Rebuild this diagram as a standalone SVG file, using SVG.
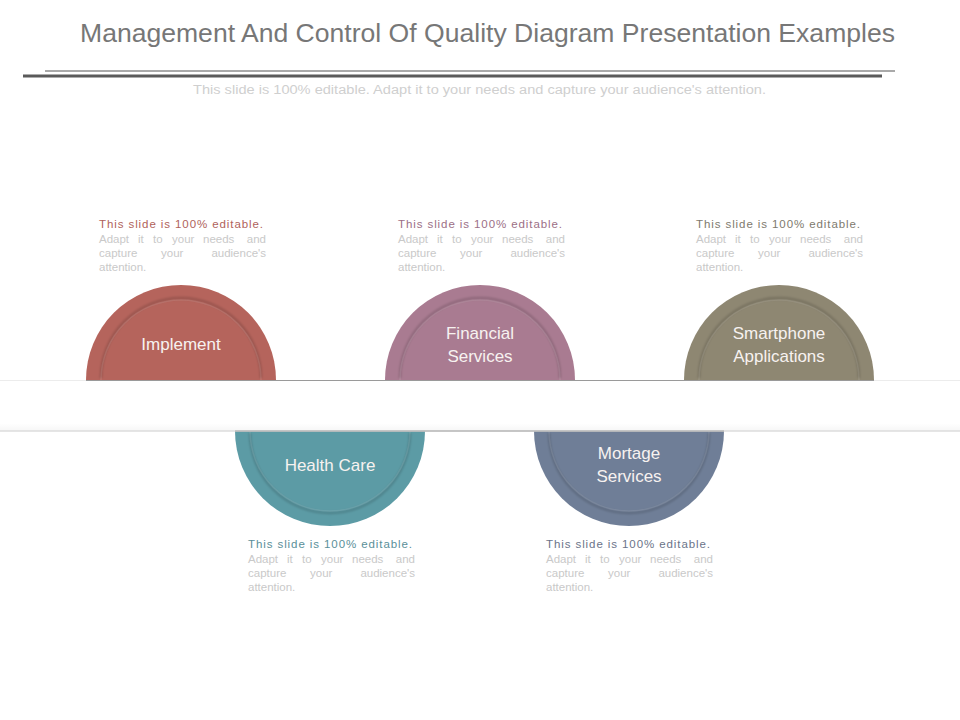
<svg xmlns="http://www.w3.org/2000/svg" width="960" height="720" viewBox="0 0 960 720">
<defs>
<style>
.title{font-family:"Liberation Sans",Arial,sans-serif;font-size:26px;fill:#777;}
.sub{font-family:"Liberation Sans",Arial,sans-serif;font-size:12px;fill:#cfcfcf;}
.lbl{font-family:"Liberation Sans",Arial,sans-serif;font-size:17px;fill:#f7f2f0;text-anchor:middle;}
.d1{font-family:"Liberation Sans",Arial,sans-serif;font-size:11.5px;}
.d2{font-family:"Liberation Sans",Arial,sans-serif;font-size:11.5px;fill:#c9c9c9;}
.ring{fill:none;stroke:#000;stroke-opacity:0.16;stroke-width:2.5;filter:url(#bl);}
.hi{fill:none;stroke:#fff;stroke-opacity:0.1;stroke-width:1.5;}
</style>
<filter id="bl" x="-10%" y="-10%" width="120%" height="120%"><feGaussianBlur stdDeviation="0.8"/></filter>
<linearGradient id="band" x1="0" y1="0" x2="0" y2="1">
<stop offset="0" stop-color="#ffffff"/>
<stop offset="0.85" stop-color="#ffffff"/>
<stop offset="1" stop-color="#f6f6f6"/>
</linearGradient>
</defs>
<rect width="960" height="720" fill="#fff"/>
<g id="header">
<text class="title" x="80" y="42" textLength="815" lengthAdjust="spacingAndGlyphs">Management And Control Of Quality Diagram Presentation Examples</text>
<line x1="45" y1="71" x2="895" y2="71" stroke="#555" stroke-width="1.2"/>
<line x1="23" y1="76" x2="882" y2="76" stroke="#5a5a5a" stroke-width="3"/>
<text class="sub" x="193" y="94" textLength="573" lengthAdjust="spacingAndGlyphs">This slide is 100% editable. Adapt it to your needs and capture your audience's attention.</text>
</g>
<g id="node-implement">
<path d="M86,380 A95,95 0 0 1 276,380 Z" fill="#b5645c"/>
<path d="M101,378 A80,80 0 0 1 261,378" class="ring"/>
<path d="M101,380 A80,80 0 0 1 261,380" class="hi"/>
<text class="lbl" x="181" y="350">Implement</text>
<text class="d1" x="99" y="228" fill="#b0625b" textLength="164">This slide is 100% editable.</text>
<text class="d2" y="243"><tspan x="99">Adapt</tspan><tspan x="138">it</tspan><tspan x="153">to</tspan><tspan x="172">your</tspan><tspan x="203">needs</tspan><tspan x="266" text-anchor="end">and</tspan></text>
<text class="d2" y="257"><tspan x="99">capture</tspan><tspan x="161">your</tspan><tspan x="266" text-anchor="end">audience's</tspan></text>
<text class="d2" x="99" y="271">attention.</text>
</g>
<g id="node-financial">
<path d="M385,380 A95,95 0 0 1 575,380 Z" fill="#a97b91"/>
<path d="M400,378 A80,80 0 0 1 560,378" class="ring"/>
<path d="M400,380 A80,80 0 0 1 560,380" class="hi"/>
<text class="lbl" x="480" y="339">Financial</text>
<text class="lbl" x="480" y="362">Services</text>
<text class="d1" x="398" y="228" fill="#9c6f86" textLength="164">This slide is 100% editable.</text>
<text class="d2" y="243"><tspan x="398">Adapt</tspan><tspan x="437">it</tspan><tspan x="452">to</tspan><tspan x="471">your</tspan><tspan x="502">needs</tspan><tspan x="565" text-anchor="end">and</tspan></text>
<text class="d2" y="257"><tspan x="398">capture</tspan><tspan x="460">your</tspan><tspan x="565" text-anchor="end">audience's</tspan></text>
<text class="d2" x="398" y="271">attention.</text>
</g>
<g id="node-smartphone">
<path d="M684,380 A95,95 0 0 1 874,380 Z" fill="#8e8772"/>
<path d="M699,378 A80,80 0 0 1 859,378" class="ring"/>
<path d="M699,380 A80,80 0 0 1 859,380" class="hi"/>
<text class="lbl" x="779" y="339">Smartphone</text>
<text class="lbl" x="779" y="362">Applications</text>
<text class="d1" x="696" y="228" fill="#7e7a6e" textLength="164">This slide is 100% editable.</text>
<text class="d2" y="243"><tspan x="696">Adapt</tspan><tspan x="735">it</tspan><tspan x="750">to</tspan><tspan x="769">your</tspan><tspan x="800">needs</tspan><tspan x="863" text-anchor="end">and</tspan></text>
<text class="d2" y="257"><tspan x="696">capture</tspan><tspan x="758">your</tspan><tspan x="863" text-anchor="end">audience's</tspan></text>
<text class="d2" x="696" y="271">attention.</text>
</g>
<g id="node-health">
<path d="M235,431 A95,95 0 0 0 425,431 Z" fill="#5c9ba5"/>
<path d="M250,433 A80,80 0 0 0 410,433" class="ring"/>
<path d="M250,431 A80,80 0 0 0 410,431" class="hi"/>
<text class="lbl" x="330" y="471">Health Care</text>
<text class="d1" x="248" y="548" fill="#5a8f99" textLength="164">This slide is 100% editable.</text>
<text class="d2" y="563"><tspan x="248">Adapt</tspan><tspan x="287">it</tspan><tspan x="302">to</tspan><tspan x="321">your</tspan><tspan x="352">needs</tspan><tspan x="415" text-anchor="end">and</tspan></text>
<text class="d2" y="577"><tspan x="248">capture</tspan><tspan x="310">your</tspan><tspan x="415" text-anchor="end">audience's</tspan></text>
<text class="d2" x="248" y="591">attention.</text>
</g>
<g id="node-mortage">
<path d="M534,431 A95,95 0 0 0 724,431 Z" fill="#6f7e97"/>
<path d="M549,433 A80,80 0 0 0 709,433" class="ring"/>
<path d="M549,431 A80,80 0 0 0 709,431" class="hi"/>
<text class="lbl" x="629" y="459">Mortage</text>
<text class="lbl" x="629" y="482">Services</text>
<text class="d1" x="546" y="548" fill="#6b7489" textLength="164">This slide is 100% editable.</text>
<text class="d2" y="563"><tspan x="546">Adapt</tspan><tspan x="585">it</tspan><tspan x="600">to</tspan><tspan x="619">your</tspan><tspan x="650">needs</tspan><tspan x="713" text-anchor="end">and</tspan></text>
<text class="d2" y="577"><tspan x="546">capture</tspan><tspan x="608">your</tspan><tspan x="713" text-anchor="end">audience's</tspan></text>
<text class="d2" x="546" y="591">attention.</text>
</g>
<g id="band">
<rect x="0" y="380" width="960" height="51" fill="url(#band)"/>
<line x1="0" y1="380.5" x2="960" y2="380.5" stroke="#ececec" stroke-width="1"/>
<line x1="86" y1="380.5" x2="874" y2="380.5" stroke="#9a9a9a" stroke-width="1.2"/>
<line x1="0" y1="431" x2="960" y2="431" stroke="#dcdcdc" stroke-width="1.5"/>
<line x1="235" y1="431" x2="724" y2="431" stroke="#a8a8a8" stroke-width="1.2"/>
</g>
</svg>
